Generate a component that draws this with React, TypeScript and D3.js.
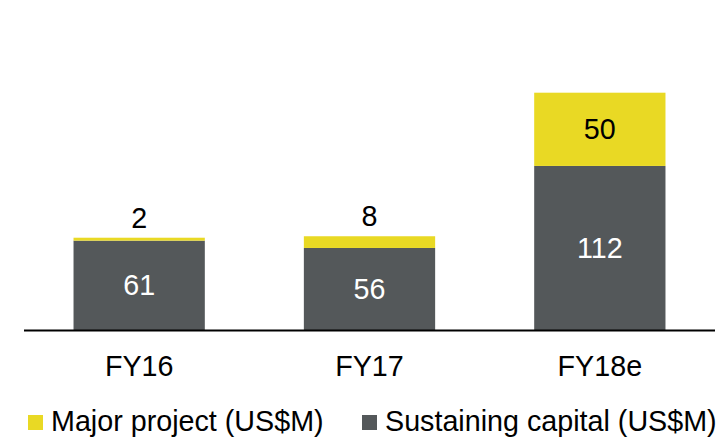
import React from "react";
import * as d3 from "d3";

const categories = ["FY16", "FY17", "FY18e"];
const sustaining = [61, 56, 112];
const major = [2, 8, 50];
const seriesNames = ["Major project (US$M)", "Sustaining capital (US$M)"];

const W = 723;
const H = 438;
const YELLOW = "#E9D924";
const GREY = "#54585A";
const FONT = "'Liberation Sans', Arial, sans-serif";
const FS = 28.7;

export default function App() {
  const x = d3.scaleBand<string>().domain(categories).range([24, 715]).paddingInner(0.43).paddingOuter(0.215);
  const y = d3.scaleLinear().domain([0, 162]).range([330, 92.7]);

  const stackData = categories.map((c, i) => ({ cat: c, sustaining: sustaining[i], major: major[i] }));
  const stacked = d3.stack<any>().keys(["sustaining", "major"])(stackData);

  return (
    <svg width={W} height={H} style={{ position: "absolute", left: 0, top: 0 }} fontFamily={FONT}>
      <rect width={W} height={H} fill="#fff" />
      {stacked.map((layer) =>
        layer.map((d, i) => {
          const x0 = x(categories[i])!;
          const top = y(d[1]);
          const bot = y(d[0]);
          const isMajor = layer.key === "major";
          const val = isMajor ? major[i] : sustaining[i];
          const cx = x0 + x.bandwidth() / 2;
          const inside = !isMajor || val >= 20;
          return (
            <g key={layer.key + i}>
              <rect x={x0} y={top} width={x.bandwidth()} height={bot - top} fill={isMajor ? YELLOW : GREY} />
              {inside ? (
                <text x={cx} y={(top + bot) / 2 + 10} textAnchor="middle" fontSize={FS} fill={isMajor ? "#000" : "#fff"}>
                  {val}
                </text>
              ) : (
                <text x={cx} y={top - 10} textAnchor="middle" fontSize={FS} fill="#000">
                  {val}
                </text>
              )}
            </g>
          );
        })
      )}
      <line x1={24} x2={715} y1={330.5} y2={330.5} stroke="#000" strokeWidth={2} />
      {categories.map((c) => (
        <text key={c} x={x(c)! + x.bandwidth() / 2} y={376} textAnchor="middle" fontSize={FS} fill="#000">
          {c}
        </text>
      ))}
      <rect x={28} y={415} width={15} height={15} fill={YELLOW} />
      <text x={51} y={431} fontSize={FS} fill="#000">{seriesNames[0]}</text>
      <rect x={362} y={415} width={15} height={15} fill={GREY} />
      <text x={385} y={431} fontSize={FS} fill="#000">{seriesNames[1]}</text>
    </svg>
  );
}
